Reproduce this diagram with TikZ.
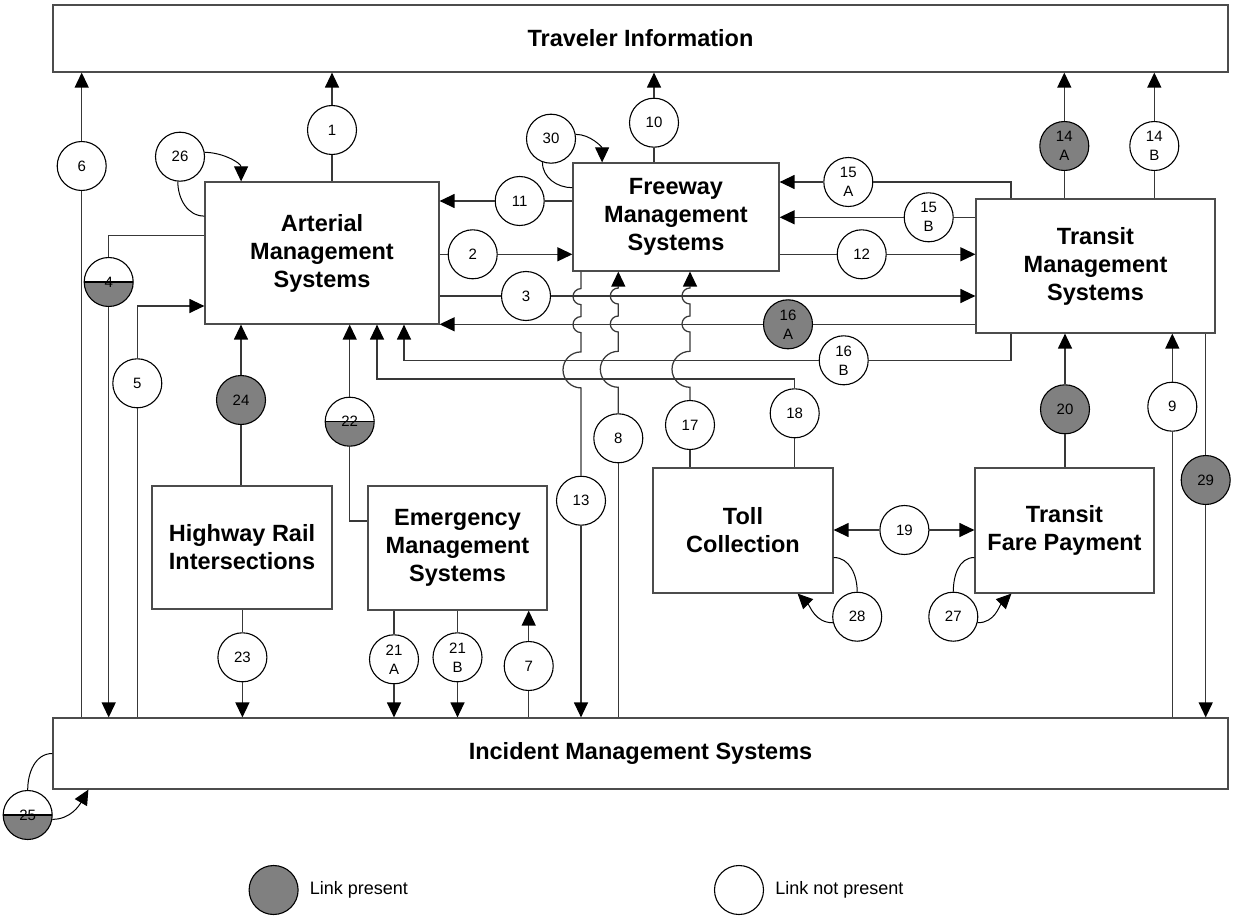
\documentclass[tikz,border=0pt]{standalone}
\usepackage{fontspec}
\setmainfont{Liberation Sans}
\usetikzlibrary{arrows.meta,positioning}
\definecolor{linkgray}{HTML}{808080}
\tikzset{
  sysbox/.style={draw=black!70, line width=1.2pt, fill=white, align=center, inner sep=0pt,
    font=\bfseries\fontsize{23.5}{28}\selectfont},
  lnk/.style={circle, draw=black, line width=1.1pt, fill=white, minimum size=49pt, inner sep=0pt,
    align=center, font=\fontsize{15}{19}\selectfont},
  lnkon/.style={lnk, fill=linkgray},
  lnkhalf/.style={lnk, path picture={
    \fill[linkgray] (path picture bounding box.west) rectangle (path picture bounding box.south east);
    \draw[line width=1.1pt] (path picture bounding box.west) -- (path picture bounding box.east);}},
  wire/.style={draw=black!78, line width=1.25pt},
  arr/.style={wire, -{Triangle[length=15pt,width=14pt,color=black]}},
  loopline/.style={draw=black, line width=1pt},
  looparr/.style={loopline, -{Triangle[length=15pt,width=14pt]}},
  keytext/.style={font=\fontsize{18}{22}\selectfont, inner sep=0pt},
}
\begin{document}
\begin{tikzpicture}[x=1pt,y=1pt]
\useasboundingbox (0,0) rectangle (1233,-920);
\node[sysbox, minimum width=1175, minimum height=67] (trav) at (640.5,-38.5) {Traveler Information};
\node[sysbox, minimum width=234, minimum height=142] (art) at (322,-253) {Arterial\\Management\\Systems};
\node[sysbox, minimum width=206, minimum height=108] (fwy) at (676,-217) {Freeway\\Management\\Systems};
\node[sysbox, minimum width=239, minimum height=134] (trn) at (1095.5,-266) {Transit\\Management\\Systems};
\node[sysbox, minimum width=180, minimum height=123] (hri) at (242,-547.5) {Highway Rail\\Intersections};
\node[sysbox, minimum width=179, minimum height=124] (ems) at (457.5,-548) {Emergency\\Management\\Systems};
\node[sysbox, minimum width=180, minimum height=125] (toll) at (743,-530.5) {Toll\\Collection};
\node[sysbox, minimum width=179, minimum height=125] (fare) at (1064.5,-530.5) {Transit\\Fare Payment};
\node[sysbox, minimum width=1175, minimum height=71] (ims) at (640.5,-753.5) {Incident Management Systems};

\foreach \n/\x/\y in {1/332/-130, 2/472.7/-254.3, 3/526/-296, 5/137.3/-383.3, 6/81.7/-166,
    7/528.7/-666, 8/618.3/-438.3, 9/1172.3/-406.7, 10/654/-122.7, 11/519.7/-201,
    12/861.7/-254.3, 13/581/-500.7, 17/690/-425, 18/794.7/-413.3, 19/904.4/-530,
    23/242.4/-657.3, 26/180/-156.7, 27/953.3/-616.7, 28/857.2/-616.7, 30/551/-138.7}
  \node[lnk] (l\n) at (\x,\y) {\n};
\foreach \n/\x/\y in {20/1065/-409.3, 24/241/-400, 29/1205.7/-480}
  \node[lnkon] (l\n) at (\x,\y) {\n};
\foreach \n/\x/\y in {4/108.7/-282, 22/349.7/-421.7, 25/27.7/-815}
  \node[lnkhalf] (l\n) at (\x,\y) {\n};
\node[lnkon] (l14a) at (1064.3,-146) {14\\A};
\node[lnk] (l14b) at (1154.3,-146) {14\\B};
\node[lnk] (l15a) at (848.3,-182) {15\\A};
\node[lnk] (l15b) at (928.7,-217.3) {15\\B};
\node[lnkon] (l16a) at (788,-324.3) {16\\A};
\node[lnk] (l16b) at (843.7,-360.3) {16\\B};
\node[lnk] (l21a) at (394,-659.3) {21\\A};
\node[lnk] (l21b) at (457.5,-657.3) {21\\B};

\foreach \n in {1,6,10,14a,14b} \draw[arr] (l\n) -- (l\n |- trav.south);
\draw[wire] (l1) -- (l1 |- art.north);
\draw[wire] (l6) -- (l6 |- ims.north);
\draw[wire] (l10) -- (l10 |- fwy.north);
\draw[wire] (l14a) -- (l14a |- trn.north);
\draw[wire] (l14b) -- (l14b |- trn.north);

\draw[arr] (l11) -- (l11 -| art.east);
\draw[wire] (l11) -- (l11 -| fwy.west);
\draw[wire] (l2) -- (l2 -| art.east);
\draw[arr] (l2) -- (l2 -| fwy.west);
\draw[wire] (l3) -- (l3 -| art.east);
\draw[arr] (l3) -- (l3 -| trn.west);
\draw[arr] (l16a) -- (l16a -| art.east);
\draw[wire] (l16a) -- (l16a -| trn.west);
\draw[wire] (l12) -- (l12 -| fwy.east);
\draw[arr] (l12) -- (l12 -| trn.west);
\draw[arr] (l15b) -- (l15b -| fwy.east);
\draw[wire] (l15b) -- (l15b -| trn.west);
\draw[arr] (l15a) -- (l15a -| fwy.east);
\draw[wire] (l15a) -| ([xshift=-84.5pt]trn.north);
\draw[wire] (l16b) -| ([xshift=-84.5pt]trn.south);
\draw[arr] (l16b) -| ([xshift=82pt]art.south);
\draw[wire] (l18) -- (l18 |- toll.north);
\draw[arr] (l18) |- ([shift={(55pt,-54.3pt)}]art.south) -- ([xshift=55pt]art.south);

\draw[wire] (l4) |- ([yshift=17.7pt]art.west);
\draw[arr] (l4) -- (l4 |- ims.north);
\draw[arr] (l5) |- ([yshift=-53pt]art.west);
\draw[wire] (l5) -- (l5 |- ims.north);
\draw[arr] (l24) -- (l24 |- art.south);
\draw[wire] (l24) -- (l24 |- hri.north);
\draw[arr] (l22) -- (l22 |- art.south);
\draw[wire] (l22) |- ([yshift=27pt]ems.west);

\draw[wire] (l13 |- fwy.south) -- ++(0,-17) arc[start angle=90,end angle=270,radius=8pt]
  -- ++(0,-12) arc[start angle=90,end angle=270,radius=8pt]
  -- ++(0,-19.3) arc[start angle=90,end angle=270,radius=18pt] -- (l13);
\draw[arr] (l13) -- (l13 |- ims.north);
\draw[arr] (l8) -- ++(0,51) arc[start angle=-90,end angle=-270,radius=18pt]
  -- ++(0,19.3) arc[start angle=-90,end angle=-270,radius=8pt]
  -- ++(0,12) arc[start angle=-90,end angle=-270,radius=8pt] -- (l8 |- fwy.south);
\draw[wire] (l8) -- (l8 |- ims.north);
\draw[arr] (l17) -- ++(0,37.7) arc[start angle=-90,end angle=-270,radius=18pt]
  -- ++(0,19.3) arc[start angle=-90,end angle=-270,radius=8pt]
  -- ++(0,12) arc[start angle=-90,end angle=-270,radius=8pt] -- (l17 |- fwy.south);
\draw[wire] (l17) -- (l17 |- toll.north);

\draw[arr] (l20) -- (l20 |- trn.south);
\draw[wire] (l20) -- (l20 |- fare.north);
\draw[arr] (l9) -- (l9 |- trn.south);
\draw[wire] (l9) -- (l9 |- ims.north);
\draw[wire] (l29) -- (l29 |- trn.south);
\draw[arr] (l29) -- (l29 |- ims.north);
\draw[arr] (l7) -- (l7 |- ems.south);
\draw[wire] (l7) -- (l7 |- ims.north);
\foreach \n in {21a,21b} {
  \draw[wire] (l\n) -- (l\n |- ems.south);
  \draw[arr] (l\n) -- (l\n |- ims.north);}
\draw[wire] (l23) -- (l23 |- hri.south);
\draw[arr] (l23) -- (l23 |- ims.north);
\draw[arr] (l19) -- (l19 -| toll.east);
\draw[arr] (l19) -- (l19 -| fare.west);

\draw[looparr] (l26.10) to[out=0,in=90] ([xshift=36.7pt]art.north west);
\draw[loopline] (l26.265) to[out=-90,in=180] ([yshift=-34.7pt]art.north west);
\draw[looparr] (l30.10) to[out=0,in=90] ([xshift=29.7pt]fwy.north west);
\draw[loopline] (l30.250) to[out=-90,in=180] ([yshift=-25.3pt]fwy.north west);
\draw[loopline] (l25.north) to[out=90,in=180] (ims.west);
\draw[looparr] (l25.-10) to[out=0,in=-120] ([xshift=36pt]ims.south west);
\draw[loopline] (l28.north) to[out=90,in=0] ([yshift=-27pt]toll.east);
\draw[looparr] (l28.194) to[out=180,in=-45] ([xshift=-36pt]toll.south east);
\draw[loopline] (l27.north) to[out=90,in=180] ([yshift=-27pt]fare.west);
\draw[looparr] (l27.-14) to[out=0,in=-135] ([xshift=37pt]fare.south west);

\node[lnkon] (keyon) at (273.6,-890) {};
\node[keytext, right=11pt of keyon] (keyontext) {Link present};
\node[lnk] (keyoff) at (739,-890) {};
\node[keytext, right=11pt of keyoff] (keyofftext) {Link not present};
\end{tikzpicture}
\end{document}
